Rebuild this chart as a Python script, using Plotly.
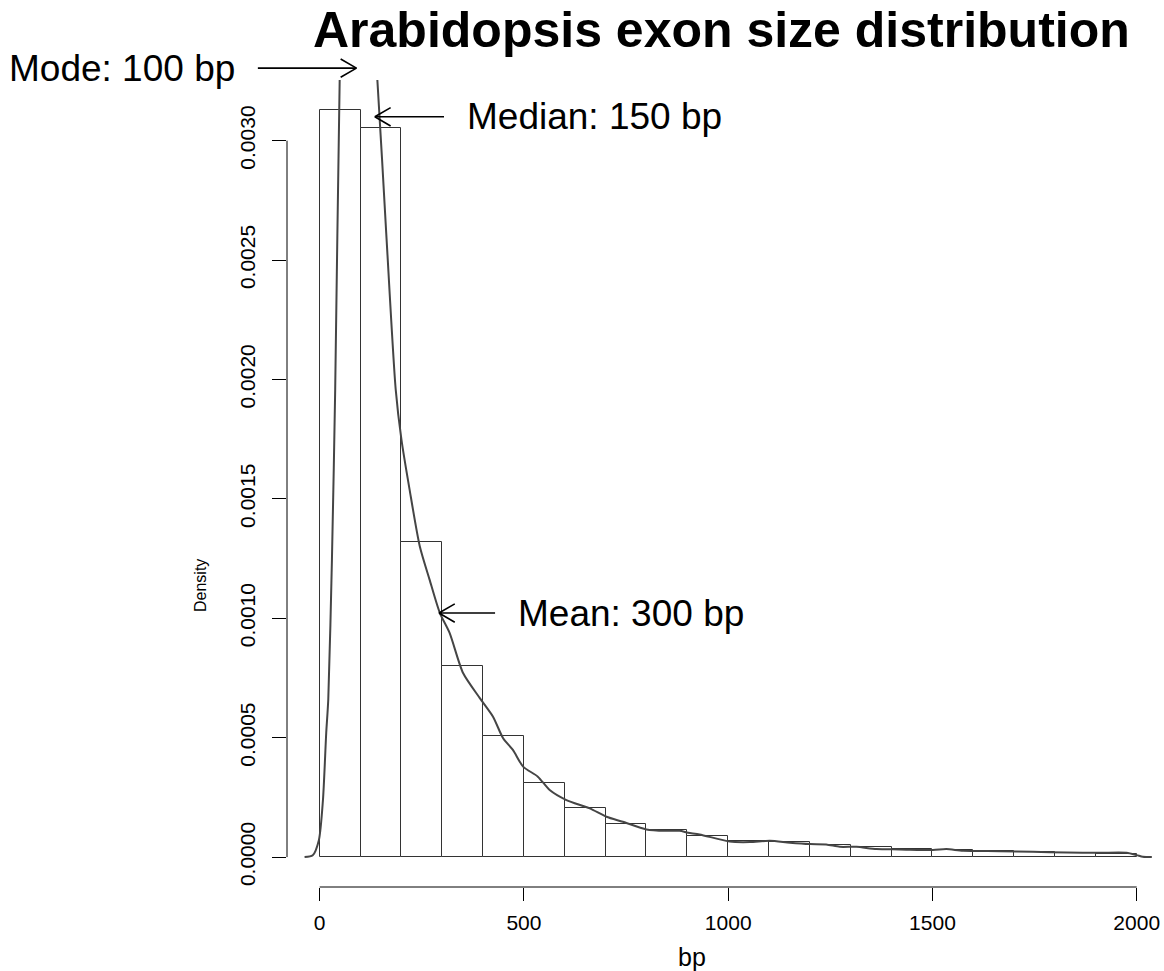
import plotly.graph_objects as go

# ---------------- data ----------------
bin_left = [0, 100, 200, 300, 400, 500, 600, 700, 800, 900,
            1000, 1100, 1200, 1300, 1400, 1500, 1600, 1700, 1800, 1900]
bin_density = [0.003129, 0.003053, 0.001319, 0.000799, 0.000509, 0.000312,
               0.000204, 0.000140, 0.000113, 0.0000868, 0.0000657, 0.0000643,
               0.0000489, 0.0000419, 0.0000350, 0.0000308, 0.0000252,
               0.0000224, 0.0000182, 0.0000140]
bin_width = 100

kde_x = [-37, -17, -2, 8, 16, 21, 30, 38, 49, 60, 75, 90, 110, 125, 141, 163,
         186, 200, 220, 245, 269, 294, 318, 351, 392, 424, 449, 473, 498, 534,
         563, 604, 661, 702, 742, 800, 849, 881, 902, 930, 1004, 1053, 1102,
         1151, 1200, 1240, 1273, 1314, 1363, 1420, 1501, 1534, 1575, 1665,
         1746, 1828, 1909, 1975, 2000, 2015, 2037]
kde_y = [0.0, 0.000008, 0.000071, 0.000239, 0.00052, 0.000659, 0.001246,
         0.00196, 0.00326, 0.0040, 0.0044, 0.0043, 0.0039, 0.0036, 0.00326,
         0.00261, 0.00196, 0.00175, 0.00154, 0.001302, 0.001162, 0.001023,
         0.000939, 0.000771, 0.000666, 0.000589, 0.000498, 0.000449, 0.000379,
         0.000337, 0.000281, 0.000239, 0.000204, 0.000169, 0.000148, 0.000116,
         0.00011, 0.00011, 0.000102, 0.000095, 0.000065, 0.000063, 0.000068,
         0.00006, 0.0000545, 0.0000533, 0.0000432, 0.0000432, 0.0000336,
         0.0000323, 0.0000294, 0.0000336, 0.0000264, 0.0000248, 0.000022,
         0.0000197, 0.000018, 0.000018, 0.0000084, 0.0000013, 0.0]

x_ticks = [0, 500, 1000, 1500, 2000]
y_ticks = [0.0, 0.0005, 0.0010, 0.0015, 0.0020, 0.0025, 0.0030]
y_tick_labels = ["0.0000", "0.0005", "0.0010", "0.0015", "0.0020", "0.0025", "0.0030"]

arrow_labels = ["Mode: 100 bp", "Median: 150 bp", "Mean: 300 bp"]
arrow_tip_x = [90, 135, 292]
arrow_tip_y = [0.003304, 0.0031, 0.001022]
arrow_tail_x = [-155, 308, 433]
label_x = [-204, 357, 482]
label_side = ["right", "left", "left"]

title_text = "Arabidopsis exon size distribution"
x_title = "bp"
y_title = "Density"

# ---------------- layout geometry ----------------
W, H = 1164, 971
ML, MR, MT, MB = 287, 4, 80, 84
PW, PH = W - ML - MR, H - MT - MB
ymax = max(bin_density)
X_RANGE = [-80, 2057]
Y_RANGE = [-0.04 * ymax, 1.04 * ymax]


def px_per_x():
    return PW / (X_RANGE[1] - X_RANGE[0])


def xp(v):
    return (v - X_RANGE[0]) / (X_RANGE[1] - X_RANGE[0])


def yp(v):
    return (v - Y_RANGE[0]) / (Y_RANGE[1] - Y_RANGE[0])


def py_paper(py):
    return (MT + PH - py) / PH


def px_paper(px):
    return (px - ML) / PW


FONT = "Liberation Sans, Arial, Helvetica, sans-serif"

fig = go.Figure()
fig.add_trace(go.Bar(
    x=[b + bin_width / 2 for b in bin_left], y=bin_density, width=bin_width,
    marker=dict(color="white", line=dict(color="#333333", width=1)),
    hoverinfo="skip", showlegend=False))
fig.add_trace(go.Scatter(
    x=kde_x, y=kde_y, mode="lines",
    line=dict(color="#454545", width=2, shape="spline", smoothing=0.7),
    hoverinfo="skip", showlegend=False))

shapes = [
    dict(type="line", xref="x", yref="paper", x0=x_ticks[0], x1=x_ticks[-1],
         y0=0, y1=0, line=dict(color="black", width=1)),
    dict(type="line", xref="paper", yref="y", x0=0, x1=0,
         y0=y_ticks[0], y1=y_ticks[-1], line=dict(color="black", width=1)),
]

ann = []
k = px_per_x()
for lab, tx, ty, tl, lx, side in zip(arrow_labels, arrow_tip_x, arrow_tip_y,
                                     arrow_tail_x, label_x, label_side):
    dx = (tl - tx) * k
    sgn = 1 if dx > 0 else -1
    # shaft
    ann.append(dict(xref="paper", yref="paper", x=xp(tx), y=yp(ty), text="",
                    showarrow=True, arrowhead=0, ax=dx, ay=0,
                    arrowwidth=1.6, arrowcolor="black", standoff=0))
    # open arrow-head barbs
    for s in (-1, 1):
        ann.append(dict(xref="paper", yref="paper", x=xp(tx), y=yp(ty), text="",
                        showarrow=True, arrowhead=0, ax=sgn * 17.3, ay=s * 10,
                        arrowwidth=1.6, arrowcolor="black", standoff=0))
    ann.append(dict(xref="paper", yref="paper", x=xp(lx), y=yp(ty), text=lab,
                    showarrow=False, xanchor=side, yanchor="middle", borderpad=0,
                    font=dict(family=FONT, size=37, color="black")))

ann.append(dict(xref="paper", yref="paper", x=px_paper(721), y=py_paper(30),
                text="<b>" + title_text + "</b>", showarrow=False,
                xanchor="center", yanchor="middle",
                font=dict(family=FONT, size=50, color="black")))
ann.append(dict(xref="paper", yref="paper", x=px_paper(692), y=py_paper(957),
                text=x_title, showarrow=False, xanchor="center", yanchor="middle",
                font=dict(family=FONT, size=25, color="black")))
ann.append(dict(xref="paper", yref="paper", x=px_paper(200), y=py_paper(586),
                text=y_title, showarrow=False, xanchor="center", yanchor="middle",
                textangle=-90, font=dict(family=FONT, size=16, color="black")))

fig.update_layout(
    width=W, height=H,
    margin=dict(l=ML, r=MR, t=MT, b=MB, pad=0),
    paper_bgcolor="white", plot_bgcolor="white",
    bargap=0, showlegend=False,
    shapes=shapes, annotations=ann,
    font=dict(family=FONT, color="black"),
)
fig.update_xaxes(range=X_RANGE, showgrid=False, zeroline=False, showline=False,
                 tickmode="array", tickvals=x_ticks,
                 ticktext=[str(v) for v in x_ticks],
                 ticks="outside", ticklen=13, tickwidth=1, tickcolor="black",
                 tickfont=dict(family=FONT, size=21, color="black"),
                 ticklabelstandoff=4)
fig.update_yaxes(range=Y_RANGE, showgrid=False, zeroline=False, showline=False,
                 tickmode="array", tickvals=y_ticks, ticktext=y_tick_labels,
                 ticks="outside", ticklen=14, tickwidth=1, tickcolor="black",
                 tickangle=-90,
                 tickfont=dict(family=FONT, size=21, color="black"),
                 ticklabelstandoff=9)

fig.write_html("out.html")
